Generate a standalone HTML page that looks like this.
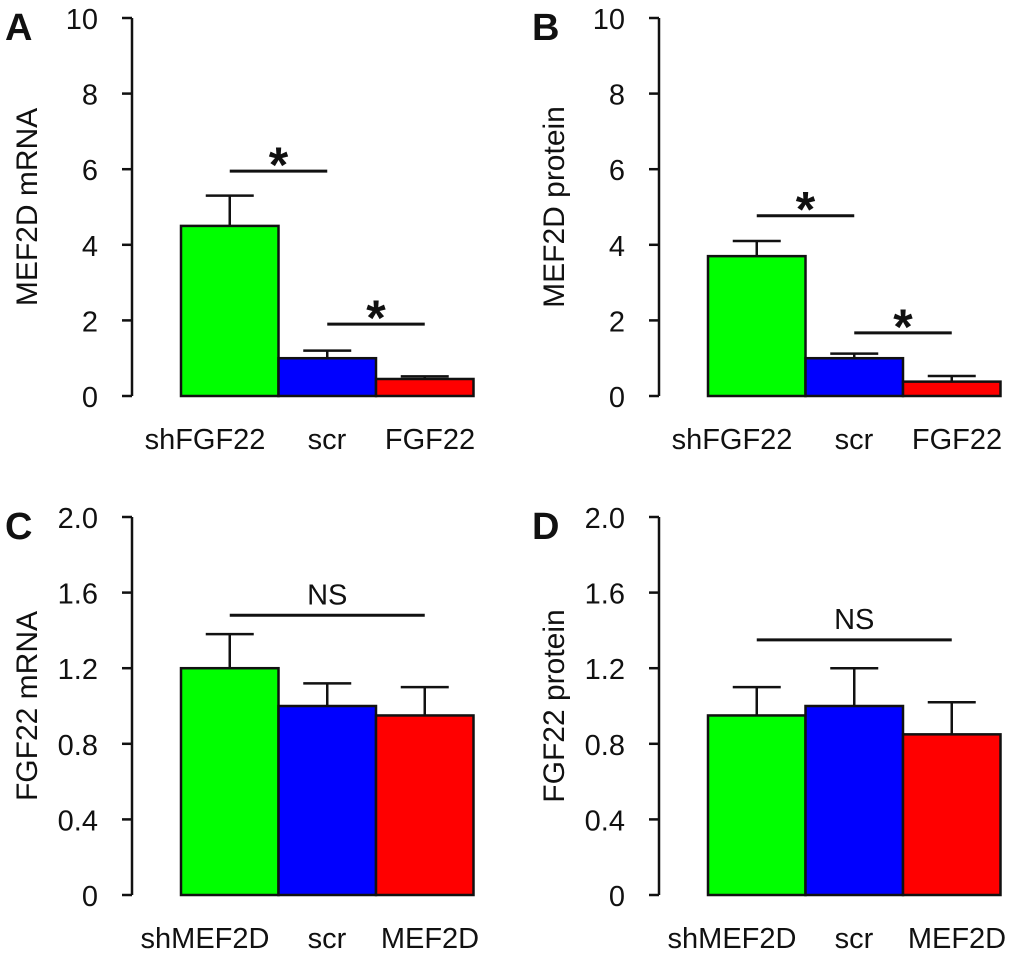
<!DOCTYPE html>
<html><head><meta charset="utf-8"><style>
body{margin:0;background:#fff}
svg text{font-family:"Liberation Sans",Arial,sans-serif;fill:#111}
</style></head><body>
<svg id="fig" width="1020" height="955" viewBox="0 0 1020 955" xmlns="http://www.w3.org/2000/svg"></svg>
<script>
const catsAB = ["shFGF22","scr","FGF22"];
const catsCD = ["shMEF2D","scr","MEF2D"];
const valsA = [4.5,1.0,0.45];
const errA = [0.8,0.2,0.07];
const valsB = [3.7,1.0,0.38];
const errB = [0.4,0.12,0.15];
const valsC = [1.2,1.0,0.95];
const errC = [0.18,0.12,0.15];
const valsD = [0.95,1.0,0.85];
const errD = [0.15,0.2,0.17];
const ticksAB = [0,2,4,6,8,10];
const ticksCD = [0,0.4,0.8,1.2,1.6,2.0];
const tickLabelsAB = ["0","2","4","6","8","10"];
const tickLabelsCD = ["0","0.4","0.8","1.2","1.6","2.0"];
const colors = ["#00ff00","#0000ff","#ff0000"];
// significance: [fromBar, toBar, yValue, label]
const sigA = [[0,1,5.95,"*"],[1,2,1.9,"*"]];
const sigB = [[0,1,4.77,"*"],[1,2,1.67,"*"]];
const sigC = [[0,2,1.48,"NS"]];
const sigD = [[0,2,1.35,"NS"]];

const svg = document.getElementById('fig');
const NS = 'http://www.w3.org/2000/svg';
function mk(tag, attrs, parent){const e=document.createElementNS(NS,tag);for(const k in attrs)e.setAttribute(k,attrs[k]);(parent||svg).appendChild(e);return e;}

function panel(id, ox, oy, letter, title, cats, vals, errs, ticks, tlabels, ymax, sigs){
  const g = mk('g',{});
  
  
  const axX = ox+132, y0 = oy+396, y1 = oy+18;
  const ys = v => y0 - (v/ymax)*(y0-y1);
  const bx0 = ox+181, bw = 97.5;
  const L = mk('text',{x:ox+5,y:oy+40,'font-size':38,'font-weight':'bold'},g); L.textContent=letter;
  
  
  const T = mk('text',{x:0,y:0,'font-size':30,'text-anchor':'middle',transform:`translate(${ox+37},${(y0+y1)/2}) rotate(-90)`},g); T.textContent=title;
  
  
  const ax = mk('line',{x1:axX,y1:y1,x2:axX,y2:y0,stroke:'#111','stroke-width':2.5},g);
  
  
  ticks.forEach((t,i)=>{
    const y=ys(t);
    const tk = mk('line',{x1:axX-10,y1:y,x2:axX,y2:y,stroke:'#111','stroke-width':2.5},g);
    
    
    const tl = mk('text',{x:axX-34,y:y+11,'font-size':29,'text-anchor':'end'},g); tl.textContent=tlabels[i];
    
    
  });
  vals.forEach((v,i)=>{
    const x = bx0 + i*bw, cx = x+bw/2, top = ys(v), et = ys(v+errs[i]);
    const eb = mk('line',{x1:cx,y1:et,x2:cx,y2:top,stroke:'#111','stroke-width':2.5},g);
    
    
    const cap = mk('line',{x1:cx-24,y1:et,x2:cx+24,y2:et,stroke:'#111','stroke-width':2.5},g);
    
    
    const r = mk('rect',{x:x,y:top,width:bw,height:y0-top,fill:colors[i],stroke:'#111','stroke-width':2.5},g);
    
    
    const lx = [ox+205, ox+327, ox+430][i];
    const c = mk('text',{x:lx,y:oy+449,'font-size':29,'text-anchor':'middle'},g); c.textContent=cats[i];
    
    
  });
  sigs.forEach(s=>{
    const xa = bx0 + s[0]*bw + bw/2, xb = bx0 + s[1]*bw + bw/2, y = ys(s[2]);
    const sl = mk('line',{x1:xa,y1:y,x2:xb,y2:y,stroke:'#111','stroke-width':3},g);
    
    
    const isStar = s[3]==='*';
    const st = mk('text',{x:(xa+xb)/2,y:isStar?y+11:y-11,'font-size':isStar?50:29,'font-weight':isStar?'bold':'normal','text-anchor':'middle'},g); st.textContent=s[3];
    
    
  });
}
panel('a',0,0,'A','MEF2D mRNA',catsAB,valsA,errA,ticksAB,tickLabelsAB,10,sigA);
panel('b',527,0,'B','MEF2D protein',catsAB,valsB,errB,ticksAB,tickLabelsAB,10,sigB);
panel('c',0,499,'C','FGF22 mRNA',catsCD,valsC,errC,ticksCD,tickLabelsCD,2,sigC);
panel('d',527,499,'D','FGF22 protein',catsCD,valsD,errD,ticksCD,tickLabelsCD,2,sigD);
</script>
</body></html>
